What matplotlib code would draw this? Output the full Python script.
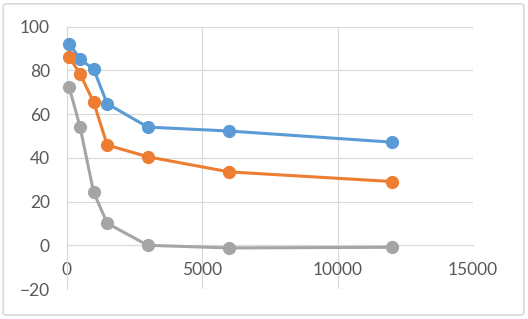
import matplotlib
matplotlib.use("Agg")
import matplotlib.pyplot as plt
from matplotlib.patches import FancyBboxPatch

x_vals = [100, 500, 1000, 1500, 3000, 6000, 12000]
blue_vals = [92.3, 85.2, 80.6, 64.8, 54.1, 52.3, 47.2]
orange_vals = [86.2, 78.4, 65.5, 45.9, 40.5, 33.6, 29.2]
gray_vals = [72.3, 54.1, 24.3, 10.1, 0.0, -1.2, -0.9]
x_ticks = [0, 5000, 10000, 15000]
y_ticks = [-20, 0, 20, 40, 60, 80, 100]

plt.rcParams['font.family'] = ['Lato', 'DejaVu Sans']
fig = plt.figure(figsize=(5.28, 3.19), dpi=100)
ax = fig.add_axes([0.126, 0.094, 0.77, 0.822])

grid_c = '#d9d9d9'
text_c = '#595959'
for xv, yv, c in [(x_vals, blue_vals, '#5B9BD5'), (x_vals, orange_vals, '#ED7D31'), (x_vals, gray_vals, '#A5A5A5')]:
    ax.plot(xv, yv, color=c, lw=2.2, marker='o', markersize=8.5, zorder=3, clip_on=False)

ax.set_xlim(0, 15000)
ax.set_ylim(-20, 100)
ax.set_xticks(x_ticks)
ax.set_yticks(y_ticks)
ax.grid(True, color=grid_c, lw=0.8)
ax.set_axisbelow(True)
for s in ['top', 'right']:
    ax.spines[s].set_visible(False)
ax.spines['left'].set_color(grid_c)
ax.spines['left'].set_linewidth(0.8)
ax.spines['bottom'].set_position(('data', 0))
ax.spines['bottom'].set_color(grid_c)
ax.spines['bottom'].set_linewidth(0.8)
ax.tick_params(length=0, labelsize=12.5, colors=text_c)
ax.tick_params(axis='y', pad=12)
ax.tick_params(axis='x', pad=12)

border = FancyBboxPatch((0.006, 0.012), 0.986, 0.976, boxstyle='round,pad=0,rounding_size=0.008',
                        transform=fig.transFigure, facecolor='none', edgecolor=grid_c, lw=1.2)
fig.patches.append(border)

fig.savefig('out.png', dpi=100)
